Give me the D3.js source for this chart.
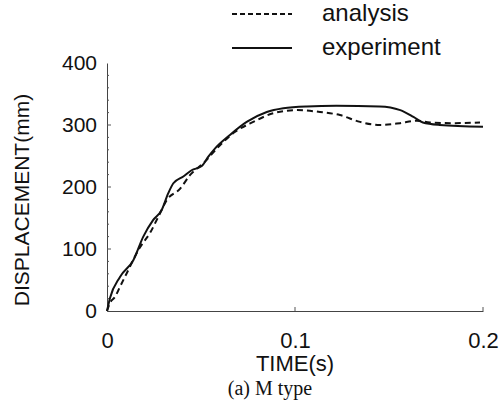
<!DOCTYPE html>
<html>
<head>
<meta charset="utf-8">
<script src="https://cdn.jsdelivr.net/npm/d3@7/dist/d3.min.js"></script>
<style>
html,body{margin:0;padding:0;background:#fff;}
svg{display:block;}
</style>
</head>
<body>
<svg id="chart" width="502" height="414"></svg>
<script>
const xTicks = [0, 0.1, 0.2];
const yTicks = [0, 100, 200, 300, 400];
const seriesNames = ["analysis", "experiment"];

const expTime = [0, 0.0016, 0.0069, 0.014, 0.0193, 0.0246, 0.0291, 0.0326, 0.0353, 0.0406, 0.045, 0.0504, 0.0539, 0.0574, 0.0654, 0.0743, 0.085, 0.0938, 0.1062, 0.122, 0.145, 0.156, 0.163, 0.168, 0.177, 0.2];
const expDisp = [0, 21, 55, 82, 120, 147, 163, 190, 206, 217, 227, 234, 249, 262, 284, 305, 321, 327, 330, 331, 330, 324, 313, 304, 300, 297];

const anaTime = [0, 0.0016, 0.0043, 0.0069, 0.0105, 0.0176, 0.0229, 0.0273, 0.0318, 0.0388, 0.0441, 0.0521, 0.0584, 0.0672, 0.0778, 0.0885, 0.1009, 0.1133, 0.1239, 0.1346, 0.1452, 0.1559, 0.1647, 0.1718, 0.1842, 0.1984];
const anaDisp = [0, 13, 23, 39, 61, 103, 126, 152, 179, 197, 219, 241, 262, 287, 305, 319, 324, 321, 316, 305, 300, 303, 307, 304, 303, 304];

const svg = d3.select("#chart");
const x = d3.scaleLinear().domain([0, 0.2]).range([107, 483]);
const y = d3.scaleLinear().domain([0, 400]).range([311, 63]);

const font = "Liberation Sans, Arial, sans-serif";

// axes
const yAxis = d3.axisLeft(y).tickValues(yTicks).tickSize(0).tickPadding(10).tickFormat(d3.format("d"));
const gy = svg.append("g").attr("transform", "translate(107,0)").call(yAxis);
gy.select(".domain").attr("stroke", "#444").attr("stroke-width", 1);
gy.selectAll("text").attr("font-family", font).attr("font-size", 21).attr("fill", "#111");

const xAxis = d3.axisBottom(x).tickValues(xTicks).tickSize(0).tickPadding(21).tickFormat(d => d === 0 ? "0" : d3.format(".1f")(d));
const gx = svg.append("g").attr("transform", "translate(0,311)").call(xAxis);
gx.select(".domain").attr("stroke", "#444").attr("stroke-width", 1);
gx.selectAll("text").attr("font-family", font).attr("font-size", 22).attr("fill", "#111");

// inward ticks
svg.append("g").selectAll("line").data(d3.range(20, 400, 20)).join("line")
  .attr("x1", 107).attr("x2", d => d % 100 === 0 ? 111 : 109)
  .attr("y1", d => y(d)).attr("y2", d => y(d))
  .attr("stroke", "#555").attr("stroke-width", 1);
svg.append("g").selectAll("line").data([0.1, 0.2]).join("line")
  .attr("x1", d => x(d)).attr("x2", d => x(d))
  .attr("y1", 311).attr("y2", 307)
  .attr("stroke", "#555").attr("stroke-width", 1);

// lines
const line = d3.line().x(d => x(d[0])).y(d => y(d[1])).curve(d3.curveMonotoneX);
const expData = expTime.map((t, i) => [t, expDisp[i]]);
const anaData = anaTime.map((t, i) => [t, anaDisp[i]]);

svg.append("path").datum(anaData).attr("d", line)
  .attr("fill", "none").attr("stroke", "#111").attr("stroke-width", 2)
  .attr("stroke-dasharray", "6,4");
svg.append("path").datum(expData).attr("d", line)
  .attr("fill", "none").attr("stroke", "#111").attr("stroke-width", 2);

// legend
const legY = [14, 48];
const leg = svg.append("g");
leg.append("line").attr("x1", 232).attr("x2", 292).attr("y1", legY[0]).attr("y2", legY[0])
  .attr("stroke", "#111").attr("stroke-width", 2).attr("stroke-dasharray", "5,3");
leg.append("line").attr("x1", 232).attr("x2", 292).attr("y1", legY[1]).attr("y2", legY[1])
  .attr("stroke", "#111").attr("stroke-width", 2);
leg.selectAll("text").data(seriesNames).join("text")
  .attr("x", 322).attr("y", (d, i) => legY[i] + 7)
  .attr("font-family", font).attr("font-size", 24).attr("fill", "#111")
  .text(d => d);

// axis titles
svg.append("text").attr("x", 295).attr("y", 371).attr("text-anchor", "middle")
  .attr("font-family", font).attr("font-size", 22).attr("fill", "#111").text("TIME(s)");
svg.append("text").attr("transform", "translate(29,200) rotate(-90)").attr("text-anchor", "middle")
  .attr("font-family", font).attr("font-size", 21).attr("fill", "#111").text("DISPLACEMENT(mm)");
svg.append("text").attr("x", 270).attr("y", 395).attr("text-anchor", "middle")
  .attr("font-family", "Liberation Serif, Times New Roman, serif").attr("font-size", 20).attr("fill", "#111").text("(a) M type");
</script>
</body>
</html>
